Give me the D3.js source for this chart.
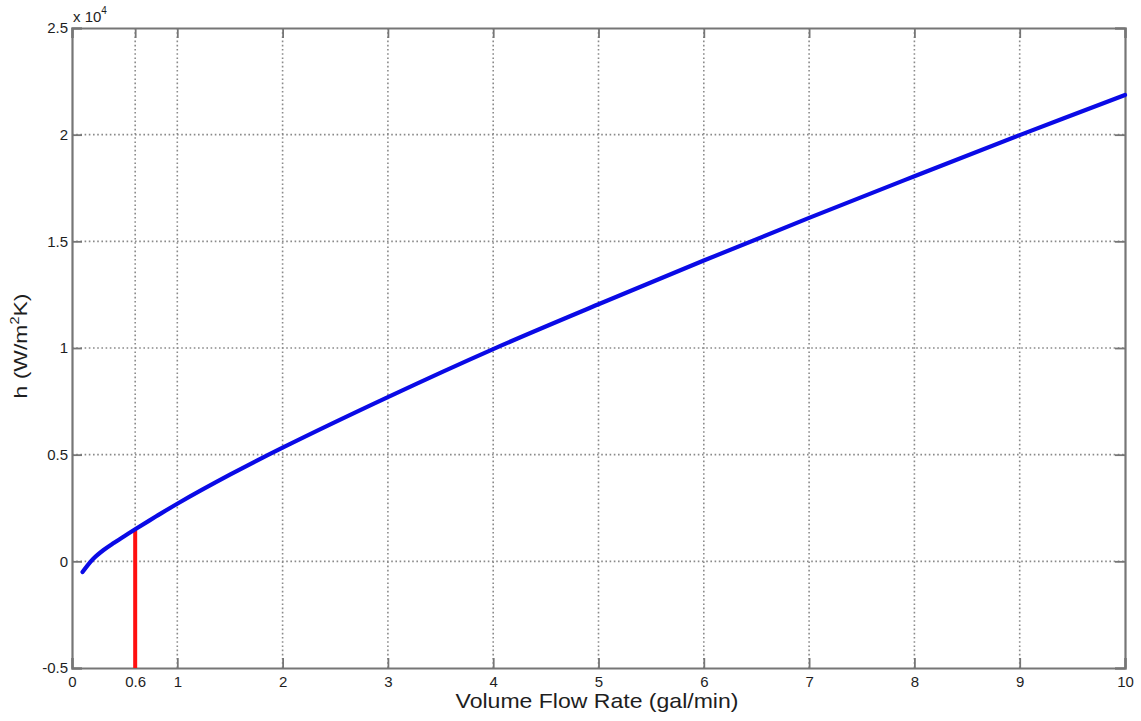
<!DOCTYPE html>
<html>
<head>
<meta charset="utf-8">
<script src="https://cdn.jsdelivr.net/npm/d3@7"></script>
<style>
  html, body { margin: 0; padding: 0; background: #fff; }
  svg { display: block; font-family: "Liberation Sans", Arial, sans-serif; }
</style>
</head>
<body>
<svg id="chart" width="1141" height="721"></svg>
<script>
// Heat transfer coefficient vs. volume flow rate
const flowRate = [0.1, 0.2, 0.3, 0.4, 0.5, 0.6, 0.8, 1, 1.5, 2, 3, 4, 5, 6, 7, 8, 9, 10];
const hValues  = [-500, 110, 530, 870, 1190, 1500, 2110, 2700, 4060, 5330, 7700, 9950, 12050, 14100, 16100, 18050, 19980, 21860];

// Operating point marker
const markerFlow = [0.6];
const markerH = [1500];

const xTicks = [0, 0.6, 1, 2, 3, 4, 5, 6, 7, 8, 9, 10];
const yTicks = [-5000, 0, 5000, 10000, 15000, 20000, 25000];
const yTickLabels = ["-0.5", "0", "0.5", "1", "1.5", "2", "2.5"];

const svg = d3.select("#chart");
const margin = { left: 72, right: 16, top: 28, bottom: 53 };
const W = 1141, H = 721;
const x0 = margin.left, x1 = W - margin.right;
const y0 = H - margin.bottom, y1 = margin.top;

const x = d3.scaleLinear().domain([0, 10]).range([x0, x1]);
const y = d3.scaleLinear().domain([-5000, 25000]).range([y0, y1]);

const axisColor = "#767676";
const textColor = "#1e1e1e";
const fontFam = "Liberation Sans, Arial, sans-serif";

// Grid lines (dotted)
const grid = svg.append("g");
grid.selectAll("line.vx").data(xTicks.filter(t => t > 0 && t < 10)).join("line")
  .attr("x1", d => x(d)).attr("x2", d => x(d))
  .attr("y1", y0).attr("y2", y1)
  .attr("stroke", "#8a8a8a").attr("stroke-width", 1.6)
  .attr("stroke-dasharray", "1.6,2.6");
grid.selectAll("line.hy").data(yTicks.filter(t => t > -5000 && t < 25000)).join("line")
  .attr("x1", x0).attr("x2", x1)
  .attr("y1", d => y(d)).attr("y2", d => y(d))
  .attr("stroke", "#8a8a8a").attr("stroke-width", 1.6)
  .attr("stroke-dasharray", "1.6,2.6");

// Axes (bottom and left) with inward ticks
const xAxis = d3.axisBottom(x).tickValues(xTicks).tickSize(-10).tickPadding(8)
  .tickFormat(d => d3.format("~g")(d));
const gx = svg.append("g").attr("transform", `translate(0,${y0})`).call(xAxis);
gx.select(".domain").attr("stroke", axisColor).attr("stroke-width", 2.2);
gx.selectAll(".tick line").attr("stroke", axisColor).attr("stroke-width", 1.8);
gx.selectAll(".tick text").attr("fill", textColor).attr("font-size", 15)
  .attr("font-family", fontFam);

const yAxis = d3.axisLeft(y).tickValues(yTicks).tickSize(-10).tickPadding(4)
  .tickFormat((d, i) => yTickLabels[i]);
const gy = svg.append("g").attr("transform", `translate(${x0},0)`).call(yAxis);
gy.select(".domain").attr("stroke", axisColor).attr("stroke-width", 2.2);
gy.selectAll(".tick line").attr("stroke", axisColor).attr("stroke-width", 1.8);
gy.selectAll(".tick text").attr("fill", textColor).attr("font-size", 15)
  .attr("font-family", fontFam);

// Top and right box edges with inward ticks
const xTop = d3.axisTop(x).tickValues(xTicks).tickSize(-10).tickFormat("");
const gxt = svg.append("g").attr("transform", `translate(0,${y1})`).call(xTop);
gxt.select(".domain").attr("stroke", axisColor).attr("stroke-width", 2.2);
gxt.selectAll(".tick line").attr("stroke", axisColor).attr("stroke-width", 1.8);

const yRight = d3.axisRight(y).tickValues(yTicks).tickSize(-10).tickFormat("");
const gyr = svg.append("g").attr("transform", `translate(${x1},0)`).call(yRight);
gyr.select(".domain").attr("stroke", axisColor).attr("stroke-width", 2.2);
gyr.selectAll(".tick line").attr("stroke", axisColor).attr("stroke-width", 1.8);

// Exponent label
const expo = svg.append("text").attr("x", x0 + 1).attr("y", y1 - 6)
  .attr("fill", textColor).attr("font-size", 15).attr("font-family", fontFam);
expo.append("tspan").text("x 10");
expo.append("tspan").attr("font-size", 10).attr("dy", -8).text("4");

// Red vertical marker at the operating flow rate
svg.append("line")
  .attr("x1", x(markerFlow[0])).attr("x2", x(markerFlow[0]))
  .attr("y1", y(-5000)).attr("y2", y(markerH[0]))
  .attr("stroke", "#ff1010").attr("stroke-width", 4);

// Curve
const line = d3.line().x((d, i) => x(flowRate[i])).y(d => y(d)).curve(d3.curveCatmullRom.alpha(0.5));
svg.append("path").datum(hValues)
  .attr("d", line)
  .attr("fill", "none")
  .attr("stroke", "#0a0ae6")
  .attr("stroke-width", 4.2)
  .attr("stroke-linecap", "round");

// Axis titles, widened slightly along the reading direction
function widen(sel, cx, cy, rot, targetLen) {
  const w = sel.node().getComputedTextLength();
  const s = targetLen / w;
  sel.attr("transform", `translate(${cx},${cy}) rotate(${rot}) scale(${s},1)`);
}

const xl = svg.append("text")
  .attr("text-anchor", "middle").attr("fill", textColor).attr("font-size", 20)
  .attr("font-family", fontFam)
  .text("Volume Flow Rate (gal/min)");
widen(xl, 597, 707.5, 0, 283);

const yl = svg.append("text")
  .attr("text-anchor", "middle").attr("fill", textColor).attr("font-size", 19)
  .attr("font-family", fontFam);
yl.append("tspan").text("h (W/m");
yl.append("tspan").attr("font-size", 12).attr("dy", -8).text("2");
yl.append("tspan").attr("dy", 8).text("K)");
widen(yl, 27, 346, -90, 105);
</script>
</body>
</html>
